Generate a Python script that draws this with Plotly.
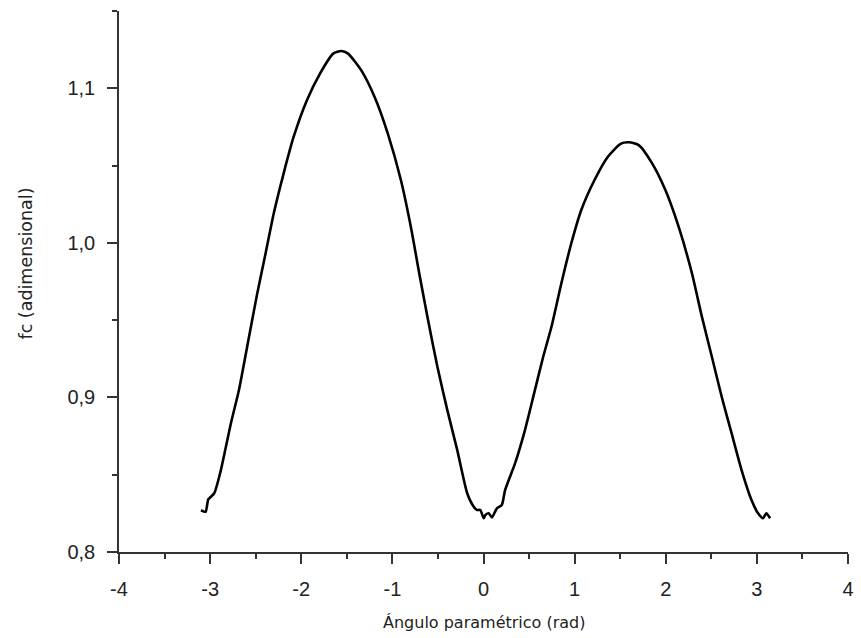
import plotly.graph_objects as go

# Data
angle_rad = [-3.100, -3.050, -3.020, -2.955, -2.882, -2.773, -2.683, -2.593, -2.484,
             -2.392, -2.302, -2.193, -2.084, -1.940, -1.794, -1.649, -1.559, -1.486,
             -1.341, -1.195, -1.050, -0.906, -0.797, -0.705, -0.615, -0.506, -0.397,
             -0.288, -0.179, -0.107, -0.071, -0.035, 0.002, 0.020, 0.057, 0.093,
             0.147, 0.201, 0.237, 0.346, 0.455, 0.564, 0.655, 0.746, 0.854, 0.963,
             1.072, 1.217, 1.363, 1.508, 1.598, 1.707, 1.852, 1.997, 2.142, 2.288,
             2.397, 2.506, 2.614, 2.723, 2.832, 2.941, 3.013, 3.067, 3.104, 3.145]
fc_value = [0.827, 0.826, 0.834, 0.838, 0.853, 0.883, 0.905, 0.933, 0.967,
            0.993, 1.019, 1.045, 1.0685, 1.092, 1.1095, 1.1224, 1.1241, 1.1224,
            1.1116, 1.0944, 1.0707, 1.0405, 1.0103, 0.9802, 0.9521, 0.9198, 0.8918,
            0.8659, 0.8380, 0.8293, 0.8272, 0.8272, 0.8218, 0.8239, 0.8250, 0.8224,
            0.8283, 0.8304, 0.8401, 0.8573, 0.8789, 0.9047, 0.9263, 0.9457, 0.9737, 0.9996,
            1.0211, 1.0405, 1.0556, 1.0642, 1.0651, 1.0631, 1.0513, 1.0340, 1.0103, 0.9802,
            0.9521, 0.9263, 0.9004, 0.8767, 0.8530, 0.8336, 0.8250, 0.8218, 0.8250, 0.8218]

x_tick_vals = [-4, -3, -2, -1, 0, 1, 2, 3, 4]
x_tick_text = ["-4", "-3", "-2", "-1", "0", "1", "2", "3", "4"]
y_tick_vals = [0.8, 0.9, 1.0, 1.1]
y_tick_text = ["0,8", "0,9", "1,0", "1,1"]

x_title = "Ángulo paramétrico (rad)"
y_title = "fc (adimensional)"

axis_color = "#333333"
tick_font = dict(family="Liberation Sans, Arial, sans-serif", size=20, color="#222222")
x_title_font = dict(family="DejaVu Sans, sans-serif", size=16, color="#222222")
y_title_font = dict(family="DejaVu Sans, sans-serif", size=17.5, color="#222222")

fig = go.Figure()
fig.add_trace(go.Scatter(x=angle_rad, y=fc_value, mode="lines", line_shape="spline",
                         line=dict(color="black", width=2.6, smoothing=0.6), showlegend=False))

fig.update_layout(
    width=861, height=638,
    margin=dict(l=119, r=7, t=11, b=86),
    paper_bgcolor="white", plot_bgcolor="white",
    separators=",.",
)
fig.update_xaxes(
    range=[-4, 4], showgrid=False, zeroline=False,
    showline=True, linecolor=axis_color, linewidth=1.6,
    tickmode="array", tickvals=x_tick_vals, ticktext=x_tick_text,
    ticks="outside", ticklen=10, tickwidth=1.6, tickcolor=axis_color,
    ticklabelstandoff=8, tickfont=tick_font,
    minor=dict(dtick=0.5, tick0=-4, ticks="outside", ticklen=5, tickwidth=1.6, tickcolor=axis_color),
)
fig.update_yaxes(
    range=[0.8, 1.15], showgrid=False, zeroline=False,
    showline=True, linecolor=axis_color, linewidth=1.6,
    tickmode="array", tickvals=y_tick_vals, ticktext=y_tick_text,
    ticks="outside", ticklen=10, tickwidth=1.6, tickcolor=axis_color,
    ticklabelstandoff=8, tickfont=tick_font,
    minor=dict(dtick=0.05, tick0=0.8, ticks="outside", ticklen=5, tickwidth=1.6, tickcolor=axis_color),
)

fig.add_annotation(text=x_title, xref="paper", yref="paper", x=0.5, y=0,
                   yshift=-70, showarrow=False, font=x_title_font,
                   xanchor="center", yanchor="middle")
fig.add_annotation(text=y_title, xref="paper", yref="paper", x=0, y=0.5,
                   xshift=-94, yshift=18, showarrow=False, font=y_title_font, textangle=-90,
                   xanchor="center", yanchor="middle")

fig.write_html("out.html")
